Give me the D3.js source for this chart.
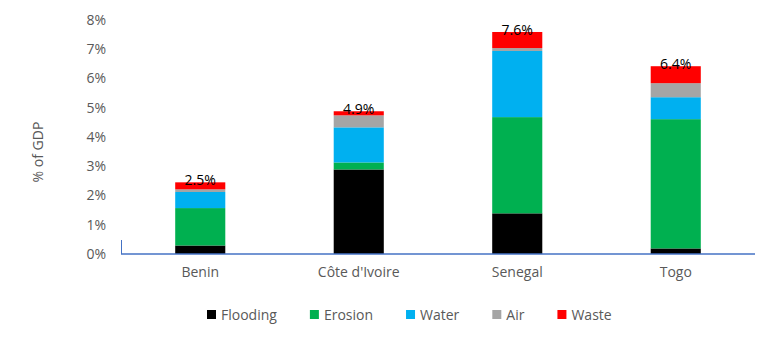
<!DOCTYPE html>
<html>
<head>
<meta charset="utf-8">
<script src="https://cdnjs.cloudflare.com/ajax/libs/d3/7.8.5/d3.min.js"></script>
<style>
  html, body { margin: 0; padding: 0; background: #fff; }
  svg { display: block; font-family: "Open Sans", "Liberation Sans", sans-serif; }
</style>
</head>
<body>
<svg id="chart" width="780" height="340"></svg>
<script>
// Environmental degradation cost by country, % of GDP
const countries = ["Benin", "Côte d'Ivoire", "Senegal", "Togo"];
const seriesNames = ["Flooding", "Erosion", "Water", "Air", "Waste"];
const flooding = [0.29, 2.89, 1.39, 0.19];
const erosion  = [1.28, 0.24, 3.29, 4.42];
const water    = [0.55, 1.20, 2.26, 0.75];
const air      = [0.09, 0.41, 0.10, 0.48];
const waste    = [0.24, 0.14, 0.55, 0.58];
const totalLabels = ["2.5%", "4.9%", "7.6%", "6.4%"];
const yTicks = [0, 1, 2, 3, 4, 5, 6, 7, 8];
const colors = ["#000000", "#00B050", "#00B0F0", "#A5A5A5", "#FF0000"];

const seriesValues = [flooding, erosion, water, air, waste];
const rows = countries.map((c, i) => {
  const r = { country: c };
  seriesNames.forEach((s, k) => { r[s] = seriesValues[k][i]; });
  return r;
});

const FONT = "'Open Sans', sans-serif";
const svg = d3.select("#chart");
const plot = { left: 121, right: 755, top: 20, bottom: 254 };

const x = d3.scaleBand().domain(countries).range([plot.left, plot.right]).paddingInner(0.684).paddingOuter(0.342);
const y = d3.scaleLinear().domain([0, 8]).range([plot.bottom, plot.top]);

const stacked = d3.stack().keys(seriesNames)(rows);

// Stacked bars
svg.append("g").selectAll("g")
  .data(stacked)
  .join("g")
  .attr("fill", (d, i) => colors[i])
  .selectAll("rect")
  .data(d => d)
  .join("rect")
  .attr("x", d => x(d.data.country))
  .attr("width", x.bandwidth())
  .attr("y", d => y(d[1]))
  .attr("height", d => y(d[0]) - y(d[1]));

// Y axis tick labels (no axis line)
const yAxis = d3.axisLeft(y).tickValues(yTicks).tickFormat(d => d + "%").tickSize(0).tickPadding(0);
const yg = svg.append("g").attr("transform", `translate(${plot.left - 15},0)`).call(yAxis);
yg.attr("font-size", null).attr("font-family", null);
yg.select(".domain").remove();
yg.selectAll("text").attr("fill", "#595959").style("font-size", "14px").style("font-family", FONT);

// X axis
const xAxis = d3.axisBottom(x).tickSize(0).tickPadding(13);
const xg = svg.append("g").attr("transform", `translate(0,${plot.bottom})`).call(xAxis);
xg.attr("font-size", null).attr("font-family", null);
xg.select(".domain").attr("stroke", "#4472C4").attr("stroke-width", 1.3)
  .attr("d", `M${plot.left},0H${plot.right}`);
xg.selectAll("text").attr("fill", "#595959").style("font-size", "14px").style("font-family", FONT);
svg.append("line")
  .attr("x1", plot.left + 0.5).attr("x2", plot.left + 0.5)
  .attr("y1", plot.bottom - 14).attr("y2", plot.bottom)
  .attr("stroke", "#4472C4").attr("stroke-width", 1);

// Total labels above each bar
const totals = rows.map(r => d3.sum(seriesNames, s => r[s]));
svg.append("g").selectAll("text")
  .data(countries)
  .join("text")
  .attr("x", (c) => x(c) + x.bandwidth() / 2)
  .attr("y", (c, i) => y(totals[i]) + 3)
  .attr("text-anchor", "middle")
  .attr("fill", "#000")
  .style("font-size", "14px")
  .style("font-family", FONT)
  .text((c, i) => totalLabels[i]);

// Y axis title
svg.append("text")
  .attr("transform", "translate(43,152) rotate(-90)")
  .attr("text-anchor", "middle")
  .attr("fill", "#595959")
  .style("font-size", "14px")
  .style("font-family", FONT)
  .text("% of GDP");

// Legend
const legend = svg.append("g").attr("transform", "translate(207,315)");
let lx = 0;
seriesNames.forEach((s, i) => {
  const g = legend.append("g").attr("transform", `translate(${lx},0)`);
  g.append("rect").attr("x", 0).attr("y", -5).attr("width", 9).attr("height", 9).attr("fill", colors[i]);
  const t = g.append("text").attr("x", 14).attr("y", 0).attr("dy", "0.35em")
    .attr("fill", "#595959").style("font-size", "14px").style("font-family", FONT).text(s);
  lx += 14 + t.node().getComputedTextLength() + 33;
});
</script>
</body>
</html>
